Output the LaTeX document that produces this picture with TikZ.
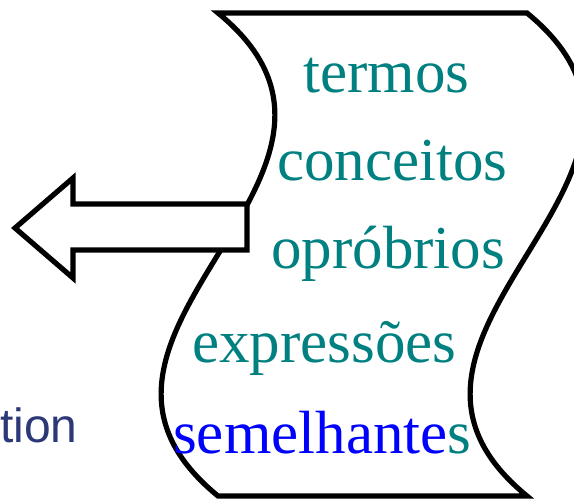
\documentclass[tikz,border=0pt]{standalone}
\usepackage{fontspec}
\setmainfont{Liberation Serif}
\newfontfamily\uisans{Liberation Sans}
\definecolor{tealtxt}{RGB}{0,128,128}
\definecolor{bluetxt}{RGB}{0,0,255}
\definecolor{tiontxt}{RGB}{44,56,120}
\begin{document}
\begin{tikzpicture}[x=1pt,y=-1pt,
  word/.style={anchor=base west, inner sep=0pt, font=\fontsize{61}{72}\selectfont, text=tealtxt},
  outline/.style={line width=5.2pt, draw=black, fill=white}]
\clip (0,0) rectangle (574,499);
\fill[white] (0,0) rectangle (574,499);
% wavy banner
\draw[outline] (218,13) .. controls (415,174) and (21,335) .. (218,496)
  -- (527,496) .. controls (330,335) and (724,174) .. (527,13) -- cycle;
% block arrow
\draw[outline] (15,228) -- (73,178) -- (73,204) -- (247,204) -- (247,250)
  -- (73,250) -- (73,278) -- cycle;
% words
\node[word] (w1) at (303,92) {termos};
\node[word] (w2) at (277,180) {conceitos};
\node[word] (w3) at (271,268) {opróbrios};
\node[word] (w4) at (192,362) {expressões};
\node[word] (w5) at (173,453) {\textcolor{bluetxt}{semelhante}s};
\node[anchor=base west, inner sep=0pt, font=\uisans\fontsize{48}{56}\selectfont, text=tiontxt] (tion) at (0,442) {tion};
\end{tikzpicture}
\end{document}
